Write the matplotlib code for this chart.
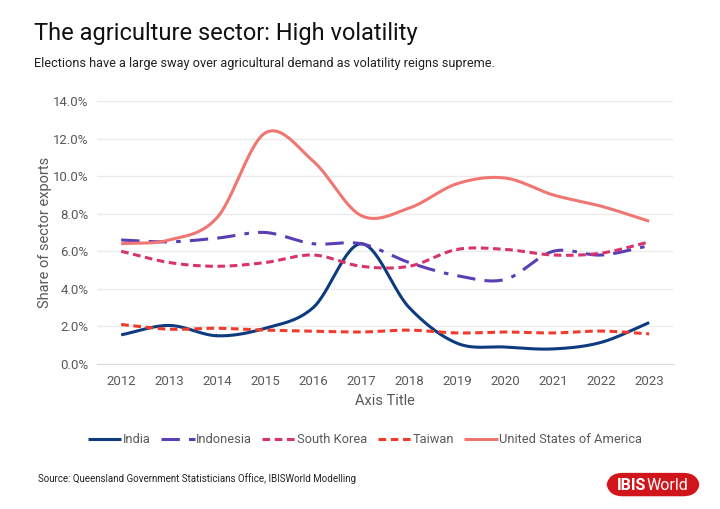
import numpy as np
import matplotlib.pyplot as plt
from matplotlib.patches import FancyBboxPatch

plt.rcParams['font.family'] = ['Roboto', 'DejaVu Sans']

years = [2012, 2013, 2014, 2015, 2016, 2017, 2018, 2019, 2020, 2021, 2022, 2023]
india = [1.55, 2.05, 1.5, 1.9, 3.0, 6.4, 3.0, 1.1, 0.9, 0.8, 1.15, 2.2]
indonesia = [6.6, 6.5, 6.7, 7.0, 6.4, 6.4, 5.4, 4.7, 4.5, 6.0, 5.8, 6.3]
south_korea = [6.0, 5.4, 5.2, 5.4, 5.8, 5.2, 5.2, 6.1, 6.1, 5.8, 5.9, 6.5]
taiwan = [2.1, 1.85, 1.9, 1.8, 1.75, 1.7, 1.8, 1.65, 1.7, 1.65, 1.75, 1.6]
usa = [6.4, 6.6, 7.8, 12.3, 10.8, 7.9, 8.3, 9.6, 9.9, 9.0, 8.4, 7.6]


def smooth(x, y, n=30):
    # catmull-rom like excel's smoothed line
    x = np.asarray(x, float)
    y = np.asarray(y, float)
    px = np.concatenate([[2 * x[0] - x[1]], x, [2 * x[-1] - x[-2]]])
    py = np.concatenate([[2 * y[0] - y[1]], y, [2 * y[-1] - y[-2]]])
    xs, ys = [], []
    for i in range(1, len(px) - 2):
        t = np.linspace(0, 1, n)
        for p, out in ((px, xs), (py, ys)):
            p0, p1, p2, p3 = p[i - 1], p[i], p[i + 1], p[i + 2]
            out.append(0.5 * (2 * p1 + (-p0 + p2) * t
                              + (2 * p0 - 5 * p1 + 4 * p2 - p3) * t ** 2
                              + (-p0 + 3 * p1 - 3 * p2 + p3) * t ** 3))
    return np.concatenate(xs), np.concatenate(ys)


fig = plt.figure(figsize=(7.2, 5.09), dpi=100)
ax = fig.add_axes([0.135, 0.285, 0.8, 0.5165])

series = [
    ('India', india, '#0d3b7f', (0, ())),
    ('Indonesia', indonesia, '#5a3fb4', (0, (6, 3, 6, 3, 1.5, 3))),
    ('South Korea', south_korea, '#d7336c', (0, (2.5, 1.5))),
    ('Taiwan', taiwan, '#ef3b2c', (0, (2.5, 1.5))),
    ('United States of America', usa, '#f07672', (0, ())),
]
for name, vals, col, ls in series:
    sx, sy = smooth(years, vals)
    ax.plot(sx, sy, color=col, lw=2.2, linestyle=ls, label=name)

ax.set_xlim(2011.5, 2023.5)
ax.set_ylim(0, 14)
ax.set_yticks(np.arange(0, 14.1, 2))
ax.set_yticklabels([f'{v:.1f}%' for v in np.arange(0, 14.1, 2)])
ax.set_xticks(years)
ax.grid(axis='y', color='#ebebeb', lw=1)
ax.set_axisbelow(True)
for s in ['top', 'right', 'left']:
    ax.spines[s].set_visible(False)
ax.spines['bottom'].set_color('#d9d9d9')
ax.tick_params(length=0, colors='#595959', labelsize=9.5)
ax.tick_params(axis='x', pad=8)
ax.tick_params(axis='y', pad=6)
ax.set_xlabel('Axis Title', color='#595959', fontsize=10.5, labelpad=4)
ax.set_ylabel('Share of sector exports', color='#595959', fontsize=10.5, labelpad=1)

leg = ax.legend(loc='upper center', bbox_to_anchor=(0.465, -0.22), ncol=5, frameon=False,
                fontsize=9.3, handlelength=2.6, handletextpad=0.1, columnspacing=0.8)
for t in leg.get_texts():
    t.set_color('#595959')

fig.text(0.047, 0.935, 'The agriculture sector: High volatility', fontsize=17, color='#111111',
         va='center')
fig.text(0.047, 0.875, 'Elections have a large sway over agricultural demand as volatility reigns supreme.',
         fontsize=9.2, color='#222222', va='center')
fig.text(0.053, 0.06, 'Source: Queensland Government Statisticians Office, IBISWorld Modelling',
         fontsize=7, color='#222222', va='center')

box = FancyBboxPatch((0.842, 0.025), 0.13, 0.046, boxstyle='round,pad=0,rounding_size=0.023',
                     transform=fig.transFigure, facecolor='#d0161b', edgecolor='none',
                     mutation_aspect=720 / 509)
fig.patches.append(box)
fig.text(0.857, 0.047, 'IBIS', fontsize=11.5, fontweight='bold', color='white', va='center')
fig.text(0.898, 0.047, 'World', fontsize=11.5, color='white', va='center')

fig.savefig('out.png', dpi=100)
